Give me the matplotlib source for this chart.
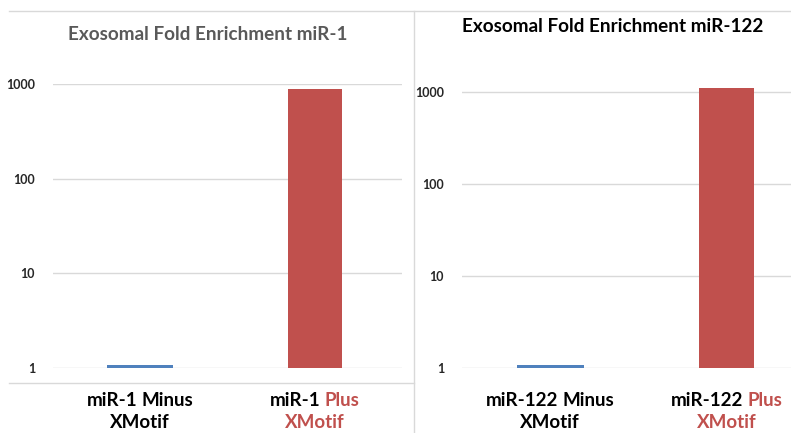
import matplotlib
matplotlib.use("Agg")
import matplotlib.pyplot as plt
from matplotlib.lines import Line2D

# data
groups = ["Minus", "Plus"]
mir1_values = [1.08, 880]
mir122_values = [1.08, 1100]
panel_titles = ["Exosomal Fold Enrichment miR-1", "Exosomal Fold Enrichment miR-122"]
panel_mirs = ["miR-1", "miR-122"]
yticks = [1, 10, 100, 1000]

BLUE = "#4F81BD"
RED = "#C0504D"
GRID = "#D9D9D9"
FONT = "Lato"

W, H = 791, 433
fig = plt.figure(figsize=(W / 100, H / 100), dpi=100)
plt.rcParams["font.family"] = [FONT, "DejaVu Sans"]


def fx(px):
    return px / W


def fy(py):
    return 1 - py / H


# panel frames
for (x0, y0, x1, y1) in [(9, 11, 791, 11), (414, 11, 414, 433), (9, 383, 414, 383)]:
    fig.add_artist(Line2D([fx(x0), fx(x1)], [fy(y0), fy(y1)], color=GRID, lw=1.0,
                          transform=fig.transFigure))

# axes boxes in pixels: left, right, top, bottom, ymax
boxes = [(53, 402, 84, 368, 1000), (462, 815, 81.5, 368, 1300)]
title_pos = [(208, 34, "#595959"), (613, 26, "#000000")]
all_values = [mir1_values, mir122_values]
LAB = 13.5

renderer = fig.canvas.get_renderer()

for i in range(2):
    l, r, t, b, ymax = boxes[i]
    ax = fig.add_axes([fx(l), fy(b), fx(r) - fx(l), (b - t) / H])
    ax.set_yscale("log")
    ax.set_ylim(1, ymax)
    ax.set_xlim(-0.5, 1.5)
    vals = all_values[i]
    ax.bar([0], [vals[0] - 1], width=0.38, bottom=1, color=BLUE, zorder=3)
    ax.bar([1], [vals[1] - 1], width=0.31, bottom=1, color=RED, zorder=3)
    ax.set_yticks(yticks)
    ax.set_yticklabels([str(v) for v in yticks])
    ax.minorticks_off()
    ax.yaxis.grid(True, color=GRID, lw=1.0, zorder=0)
    ax.set_xticks([])
    for s in ax.spines.values():
        s.set_visible(False)
    ax.tick_params(axis="y", length=0, pad=13, labelsize=9, labelcolor="#262626")
    for lab in ax.get_yticklabels():
        lab.set_fontweight("bold")
    ax.set_facecolor("none")

    tx, ty, tc = title_pos[i]
    fig.text(fx(tx), fy(ty), panel_titles[i], ha="center", va="center",
             fontsize=13.6, fontweight="bold", color=tc)

    # category labels, two colours on the "Plus" label
    for j, grp in enumerate(groups):
        cx = ax.transData.transform((j, 1))[0]
        full = panel_mirs[i] + " " + grp
        col = RED if grp == "Plus" else "#000000"
        probe = fig.text(0, 0, full, fontsize=LAB, fontweight="bold")
        wpx = probe.get_window_extent(renderer).width
        probe.remove()
        x_start = cx - wpx / 2
        fig.text(fx(x_start), fy(400), panel_mirs[i], ha="left", va="center",
                 fontsize=LAB, fontweight="bold", color="#000000")
        fig.text(fx(x_start + wpx), fy(400), grp, ha="right", va="center",
                 fontsize=LAB, fontweight="bold", color=col)
        fig.text(fx(cx), fy(423), "XMotif", ha="center", va="center",
                 fontsize=LAB, fontweight="bold", color=col)

fig.savefig("out.png", dpi=100)
